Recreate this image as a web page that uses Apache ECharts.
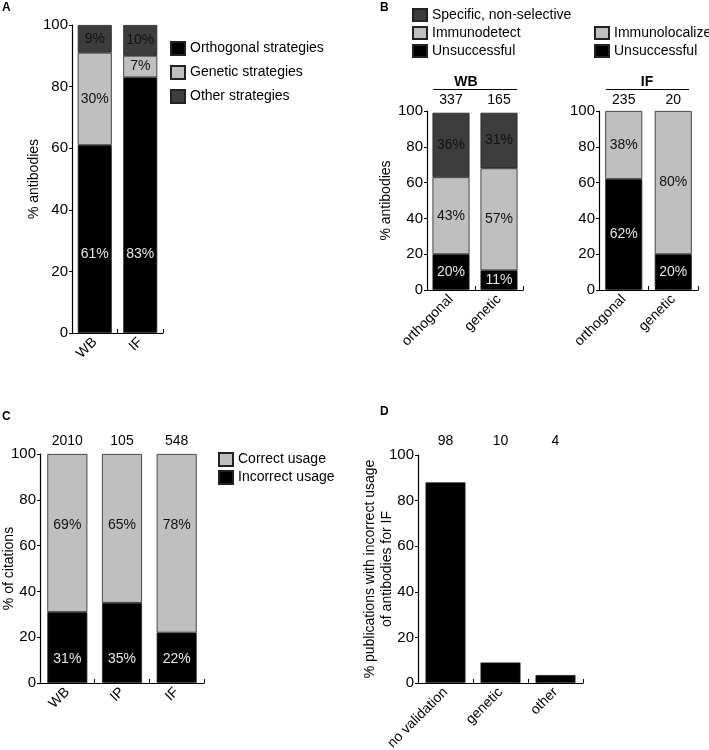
<!DOCTYPE html>
<html>
<head>
<meta charset="utf-8">
<script src="https://cdn.jsdelivr.net/npm/echarts@6/dist/echarts.min.js"></script>
<style>
html, body { margin: 0; padding: 0; background: #fff; }
#main { width: 709px; height: 750px; }
</style>
</head>
<body>
<div id="main"></div>
<script>
// panel A
const aCats = ['WB', 'IF'];
const aOrthogonal = [61, 83];
const aGenetic = [30, 7];
const aOther = [9, 10];

// panel B
const bCats = ['orthogonal', 'genetic'];
const bWbCounts = ['337', '165'];
const bWbUnsuccessful = [20, 11];
const bWbImmunodetect = [43, 57];
const bWbSpecific = [36, 31];
const bIfCounts = ['235', '20'];
const bIfUnsuccessful = [62, 20];
const bIfImmunolocalize = [38, 80];

// panel C
const cCats = ['WB', 'IP', 'IF'];
const cCounts = ['2010', '105', '548'];
const cIncorrect = [31, 35, 22];
const cCorrect = [69, 65, 78];

// panel D
const dCats = ['no validation', 'genetic', 'other'];
const dCounts = ['98', '10', '4'];
const dValues = [88, 9, 3.5];

const FONT = 'Liberation Sans, Arial, sans-serif';
const BLACK = '#000000';
const LIGHT = '#bfbfbf';
const DARK = '#3d3d3d';

var myChart = echarts.init(document.getElementById('main'));

function bottomAxis(grid, data) {
    return {
        type: 'category', gridIndex: grid, data: data, position: 'bottom',
        axisLine: { lineStyle: { color: '#000', width: 1.2 } },
        axisTick: { show: true, inside: true, length: 4, lineStyle: { color: '#000' } },
        axisLabel: { rotate: 45, margin: 7, color: '#000', fontSize: 14, fontFamily: FONT }
    };
}
function countAxis(grid, data, margin) {
    return {
        type: 'category', gridIndex: grid, data: data, position: 'top',
        axisLine: { show: false }, axisTick: { show: false },
        axisLabel: { margin: margin, color: '#000', fontSize: 14, fontFamily: FONT }
    };
}
function valueAxis(grid, name, gap) {
    return {
        type: 'value', gridIndex: grid, min: 0, max: 100, interval: 20,
        name: name, nameLocation: 'middle', nameGap: gap, nameRotate: 90,
        nameMoveOverlap: false,
        nameTextStyle: { color: '#000', fontSize: 14, fontFamily: FONT, lineHeight: 17 },
        axisLine: { show: true, lineStyle: { color: '#000', width: 1.2 } },
        axisTick: { show: true, length: 3, lineStyle: { color: '#000' } },
        axisLabel: { margin: 4, color: '#000', fontSize: 15, fontFamily: FONT },
        splitLine: { show: false }
    };
}
function bar(name, x, y, stack, data, color, width, label) {
    return {
        type: 'bar', name: name, xAxisIndex: x, yAxisIndex: y, stack: stack,
        data: data, barWidth: width,
        itemStyle: { color: color, borderColor: '#222', borderWidth: 0.8 },
        label: label
    };
}
function lab(pos, color, dist) {
    var l = { show: true, position: pos, formatter: '{c}%', color: color, fontSize: 14, fontFamily: FONT };
    if (dist !== undefined) l.distance = dist;
    return l;
}
function legend(data, left, top, iw, ih, gap) {
    return {
        data: data, orient: 'vertical', left: left, top: top, padding: 0,
        icon: 'rect', itemWidth: iw, itemHeight: ih, itemGap: gap, selectedMode: false,
        textStyle: { color: '#000', fontSize: 14, fontFamily: FONT }
    };
}

var option = {
    animation: false,
    grid: [
        { left: 72, top: 25, width: 91, height: 308, outerBoundsMode: 'none' },
        { left: 427, top: 111, width: 96, height: 179, outerBoundsMode: 'none' },
        { left: 599, top: 111, width: 99, height: 179, outerBoundsMode: 'none' },
        { left: 40, top: 454, width: 164, height: 229, outerBoundsMode: 'none' },
        { left: 418, top: 455, width: 165, height: 228, outerBoundsMode: 'none' }
    ],
    xAxis: [
        bottomAxis(0, aCats),
        bottomAxis(1, bCats),
        countAxis(1, bWbCounts, 4),
        bottomAxis(2, bCats),
        countAxis(2, bIfCounts, 4),
        bottomAxis(3, cCats),
        countAxis(3, cCounts, 6),
        bottomAxis(4, dCats),
        countAxis(4, dCounts, 7)
    ],
    yAxis: [
        valueAxis(0, '% antibodies', 29),
        valueAxis(1, '% antibodies', 32),
        valueAxis(2, '', 30),
        valueAxis(3, '% of citations', 22),
        valueAxis(4, '% publications with incorrect usage\nof antibodies for IF', 22)
    ],
    legend: [
        legend(['Orthogonal strategies', 'Genetic strategies', 'Other strategies'], 170, 41, 14, 13, 9),
        legend(['Specific, non-selective', 'Immunodetect', 'Unsuccessful'], 412, 8, 14, 12, 4),
        legend(['Immunolocalize', 'Unsuccessful'], 594, 26, 14, 12, 4),
        legend(['Correct usage', 'Incorrect usage'], 218, 452, 14, 13, 3)
    ],
    graphic: [
        { type: 'text', left: 2, top: 2, style: { text: 'A', font: 'bold 12px ' + FONT, fill: '#000' } },
        { type: 'text', left: 380, top: 2, style: { text: 'B', font: 'bold 12px ' + FONT, fill: '#000' } },
        { type: 'text', left: 2, top: 411, style: { text: 'C', font: 'bold 12px ' + FONT, fill: '#000' } },
        { type: 'text', left: 380, top: 406, style: { text: 'D', font: 'bold 12px ' + FONT, fill: '#000' } },
        { type: 'text', x: 466, y: 82, style: { text: 'WB', font: 'bold 14px ' + FONT, fill: '#000', align: 'center', verticalAlign: 'middle' } },
        { type: 'line', shape: { x1: 433, y1: 89.5, x2: 517, y2: 89.5 }, style: { stroke: '#000', lineWidth: 1.2 } },
        { type: 'text', x: 647, y: 82, style: { text: 'IF', font: 'bold 14px ' + FONT, fill: '#000', align: 'center', verticalAlign: 'middle' } },
        { type: 'line', shape: { x1: 606, y1: 89.5, x2: 689, y2: 89.5 }, style: { stroke: '#000', lineWidth: 1.2 } }
    ],
    series: [
        bar('Orthogonal strategies', 0, 0, 'a', aOrthogonal, BLACK, 34, lab('insideBottom', '#e6e6e6', 72)),
        bar('Genetic strategies', 0, 0, 'a', aGenetic, LIGHT, 34, lab('inside', '#111')),
        bar('Other strategies', 0, 0, 'a', aOther, DARK, 34, lab('inside', '#111')),

        bar('Unsuccessful', 1, 1, 'bw', bWbUnsuccessful, BLACK, 37, lab('inside', '#e6e6e6')),
        bar('Immunodetect', 1, 1, 'bw', bWbImmunodetect, LIGHT, 37, lab('inside', '#111')),
        bar('Specific, non-selective', 1, 1, 'bw', bWbSpecific, DARK, 37, lab('inside', '#111')),

        bar('Unsuccessful', 3, 2, 'bi', bIfUnsuccessful, BLACK, 37, lab('inside', '#e6e6e6')),
        bar('Immunolocalize', 3, 2, 'bi', bIfImmunolocalize, LIGHT, 37, lab('inside', '#111')),

        bar('Incorrect usage', 5, 3, 'c', cIncorrect, BLACK, 40, lab('insideBottom', '#e6e6e6', 17)),
        bar('Correct usage', 5, 3, 'c', cCorrect, LIGHT, 40, lab('insideTop', '#111', 64)),

        bar('IF publications', 7, 4, null, dValues, BLACK, 40, { show: false })
    ]
};
myChart.setOption(option);
window.addEventListener('resize', function () {
    myChart.resize();
});
</script>
</body>
</html>
